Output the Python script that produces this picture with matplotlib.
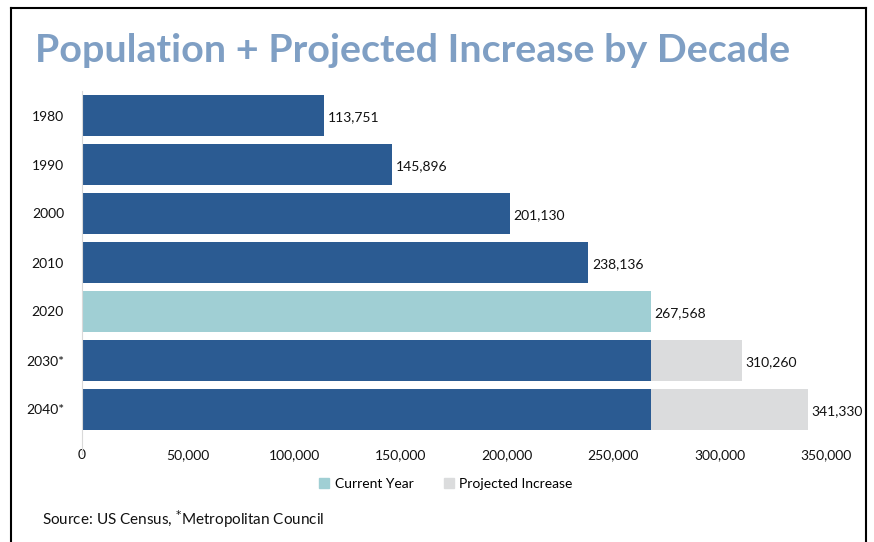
import matplotlib.pyplot as plt
from matplotlib.lines import Line2D
from matplotlib.patches import Patch

# population by decade (2030/2040 are projections)
years = ["1980", "1990", "2000", "2010", "2020", "2030*", "2040*"]
population = [113751, 145896, 201130, 238136, 267568, 310260, 341330]
current_year = "2020"
current_pop = 267568
xticks = [0, 50000, 100000, 150000, 200000, 250000, 300000, 350000]

DARK = "#2b5b92"
TEAL = "#a0cfd4"
GREY = "#dbdcdd"

plt.rcParams['font.family'] = ['Lato', 'DejaVu Sans']

fig = plt.figure(figsize=(8.74, 5.42), dpi=100)
ax = fig.add_axes([82 / 874, 1 - 434 / 542, 744 / 874, 343 / 542])

idx = years.index(current_year)
for i, (yr, val) in enumerate(zip(years, population)):
    if i < idx:
        ax.barh(i, val, height=0.82, color=DARK)
    elif i == idx:
        ax.barh(i, val, height=0.82, color=TEAL)
    else:
        ax.barh(i, current_pop, height=0.82, color=DARK)
        ax.barh(i, val - current_pop, left=current_pop, height=0.82, color=GREY)
    ax.text(val + 1800, i + 0.04, f"{val:,}", va="center", ha="left",
            fontsize=10, color="#111111")

ax.set_ylim(len(years) - 0.5, -0.5)
ax.set_xlim(0, 350000)
ax.set_yticks(range(len(years)))
ax.set_yticklabels(years, fontsize=10)
ax.set_xticks(xticks)
ax.set_xticklabels([f"{t:,}" for t in xticks], fontsize=10)
ax.tick_params(axis="both", length=0, colors="#111111")
ax.tick_params(axis="x", pad=11)
ax.tick_params(axis="y", pad=13)
for s in ["top", "right", "bottom"]:
    ax.spines[s].set_visible(False)
ax.spines["left"].set_color("#d9d9d9")
ax.spines["left"].set_bounds(-0.5, len(years) - 0.1)

fig.text(35 / 874, 1 - 50 / 542, "Population + Projected Increase by Decade",
         fontsize=28.4, fontweight="bold", color="#7f9fc4", va="center", ha="left")

handles = [Patch(color=TEAL, label="Current Year"),
           Patch(color=GREY, label="Projected Increase")]
fig.legend(handles=handles, loc="center", bbox_to_anchor=(446 / 874, 1 - 484 / 542),
           ncol=2, frameon=False, fontsize=10, handlelength=0.7, handleheight=0.7,
           handletextpad=0.4, columnspacing=2.2)

fig.text(42 / 874, 1 - 519 / 542, "Source: US Census, $^{*}$Metropolitan Council",
         fontsize=11, color="#111111", va="center", ha="left")

# frame around the graphic
for xs, ys in [([11, 11], [8, 542]), ([11, 866], [8, 8]), ([866, 866], [8, 542])]:
    fig.add_artist(Line2D([x / 874 for x in xs], [1 - y / 542 for y in ys],
                          color="black", lw=1.5, transform=fig.transFigure))

fig.savefig("out.png", dpi=100)
